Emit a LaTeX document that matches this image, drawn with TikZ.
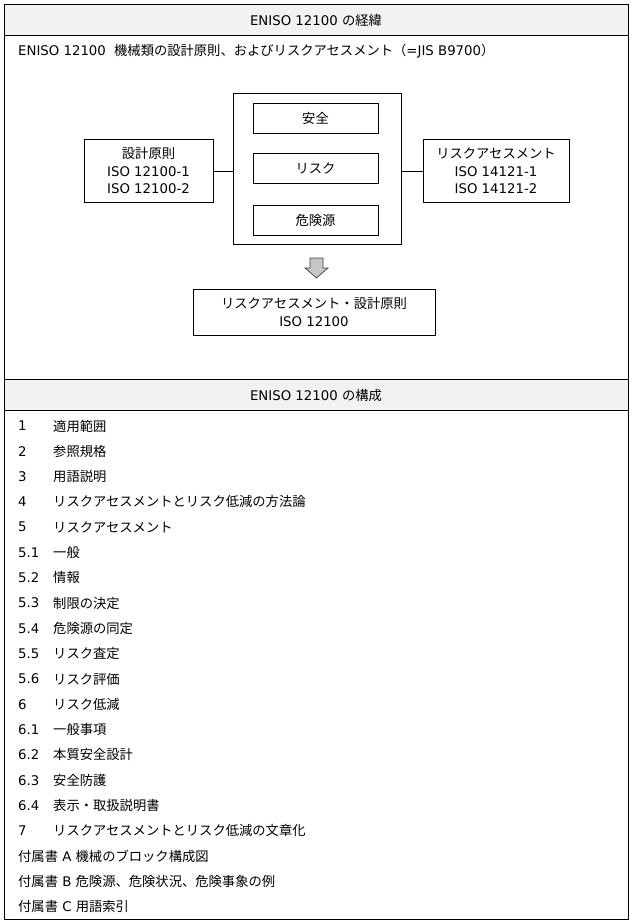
\documentclass[tikz,border=0pt]{standalone}
\usepackage{fontspec}
\setmainfont{DejaVu Sans}
\newfontfamily\jpfont{Noto Sans CJK JP}
\usetikzlibrary{positioning, calc}
\definecolor{hdrgray}{HTML}{F2F2F2}
\definecolor{arrgray}{HTML}{C6C6C6}

\begin{document}
\begin{tikzpicture}[
  x=1pt, y=-1pt,
  font=\fontsize{13.3}{17.5}\selectfont,
  box/.style={draw, line width=0.8pt, align=center, inner sep=0pt},
  inbox/.style={box, minimum width=125, minimum height=30, font=\fontsize{13.3}{17.5}\jpfont},
  txt/.style={anchor=west, inner sep=0pt},
  rule/.style={line width=0.8pt},
]
\useasboundingbox (0,0) rectangle (633,924);
% Header rows
\fill[hdrgray] (4,4) rectangle (628,35);
\fill[hdrgray] (4,379) rectangle (628,410);
\draw[rule] (4,35) -- (628,35);
\draw[rule] (4,379) -- (628,379);
\draw[rule] (4,410) -- (628,410);
\draw[line width=1pt] (4,4) rectangle (628,919);
\node[inner sep=0pt] (hdrA) at (316,20) {ENISO 12100 {\jpfont の経緯}};
\node[inner sep=0pt] (hdrB) at (316,395) {ENISO 12100 {\jpfont の構成}};
\node[txt] (intro) at (18,51) {ENISO 12100\hspace{4pt} {\jpfont 機械類の設計原則、およびリスクアセスメント（}=JIS B9700{\jpfont ）}};
% Diagram
\node[box, minimum width=168, minimum height=151] (core) at (317,168.5) {};
\node[inbox] (safety) at (315.5,118) {安全};
\node[inbox] (risk) at (315.5,168.5) {リスク};
\node[inbox] (hazard) at (315.5,220) {危険源};
\node[box, minimum width=129, minimum height=63] (design) at (148.5,171) {{\jpfont 設計原則}\\ISO 12100-1\\ISO 12100-2};
\node[box, minimum width=146, minimum height=63] (assess) at (496,171) {{\jpfont リスクアセスメント}\\ISO 14121-1\\ISO 14121-2};
\node[box, minimum width=242, minimum height=46] (result) at (314,312) {{\jpfont リスクアセスメント・設計原則}\\ISO 12100};
\draw[line width=0.8pt] (design.east) -- (design.east -| core.west);
\draw[line width=0.8pt] (assess.west) -- (assess.west -| core.east);
% Block arrow
\draw[fill=arrgray, draw=black!75, line width=0.7pt]
  (310,258) -- (323,258) -- (323,268) -- (328,268) -- (316.5,278)
  -- (305,268) -- (310,268) -- cycle;
% Contents list
\foreach \y/\num/\name/\txtname in {
  426.0/1/適用範囲/i1,
  451.3/2/参照規格/i2,
  476.6/3/用語説明/i3,
  501.9/4/リスクアセスメントとリスク低減の方法論/i4,
  527.2/5/リスクアセスメント/i5,
  552.5/5.1/一般/i51,
  577.8/5.2/情報/i52,
  603.1/5.3/制限の決定/i53,
  628.4/5.4/危険源の同定/i54,
  653.7/5.5/リスク査定/i55,
  679.0/5.6/リスク評価/i56,
  704.3/6/リスク低減/i6,
  729.6/6.1/一般事項/i61,
  754.9/6.2/本質安全設計/i62,
  780.2/6.3/安全防護/i63,
  805.5/6.4/表示・取扱説明書/i64,
  830.8/7/リスクアセスメントとリスク低減の文章化/i7%
}{
  \node[txt] (num\txtname) at (18,\y) {\num};
  \node[txt, font=\fontsize{13.3}{17.5}\jpfont] (\txtname) at (53,\y) {\name};
}
\node[txt] (annexA) at (18,856.1) {{\jpfont 付属書} A {\jpfont 機械のブロック構成図}};
\node[txt] (annexB) at (18,881.4) {{\jpfont 付属書} B {\jpfont 危険源、危険状況、危険事象の例}};
\node[txt] (annexC) at (18,906.7) {{\jpfont 付属書} C {\jpfont 用語索引}};
\end{tikzpicture}
\end{document}
